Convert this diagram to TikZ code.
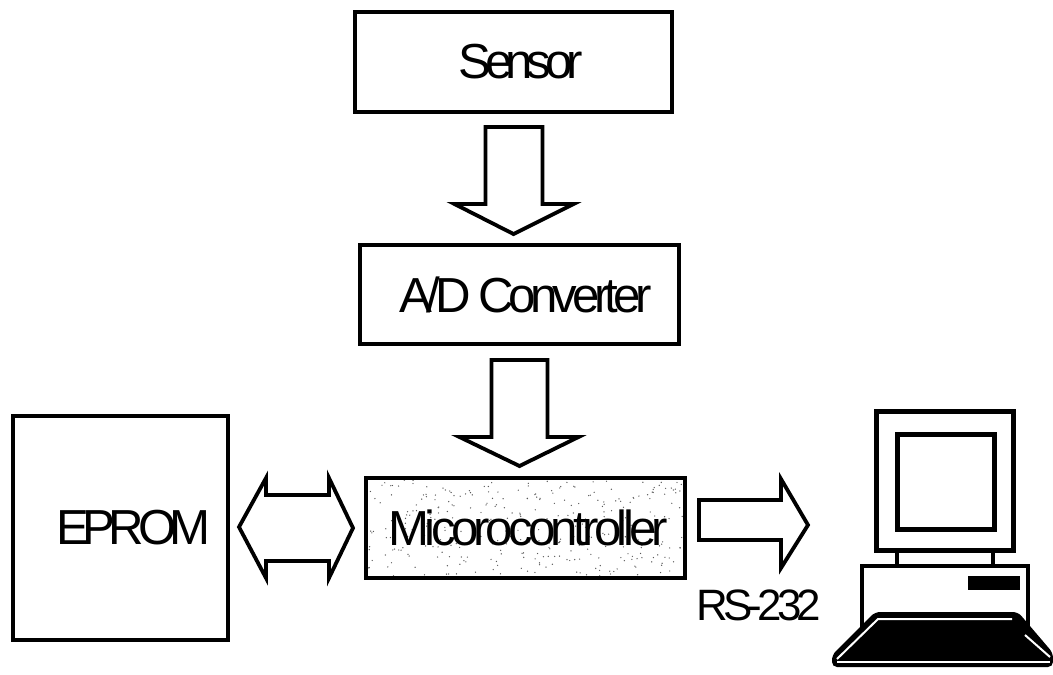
\documentclass[tikz,border=0pt]{standalone}
\usepackage{fontspec}
\setmainfont{Liberation Sans}[LetterSpace=-11]
\newcommand{\thett}[1]{\addfontfeature{LetterSpace=#1}}
\tikzset{
  blokk/.style={draw, line width=.45mm, inner sep=0pt, outer sep=0pt, anchor=north west},
  pila/.style={draw, line width=.38mm, fill=white, line join=miter},
  merki/.style={font=\fontsize{14}{16}\selectfont, inner sep=0pt},
  skjar/.style={draw, line width=.5mm}
}
\begin{document}
\begin{tikzpicture}
  \useasboundingbox (0,0) rectangle (10.53,6.74);
  \pgfmathsetseed{23}
  % kassar
  \node [blokk, merki, minimum width=3.17cm, minimum height=1cm] (sensor) at (3.55,6.62) {\hspace{.14cm}\thett{-13}Sensor};
  \node [blokk, merki, minimum width=3.19cm, minimum height=.99cm] (adc) at (3.60,4.29) {\hspace{.12cm}A/D Converter};
  \node [blokk, merki, minimum width=2.15cm, minimum height=2.24cm] (eprom) at (.13,2.58) {\hspace{.26cm}\raisebox{-.05cm}{\thett{-13}EPROM}};
  \node [blokk, merki, minimum width=3.19cm, minimum height=1cm, path picture={
    \foreach \i in {1,...,330} {
      \fill [black!65] (path picture bounding box.center) ++(1.57*rand,.48*rand) circle (.007);
    }
  }] (micro) at (3.66,1.96) {\hspace{.06cm}\raisebox{-.04cm}{\thett{-9.5}Micorocontroller}};
  \node [merki, font=\fontsize{12.5}{15}\selectfont] (rs) at (7.59,.69) {RS-232};

  % pilar
  \draw [pila] (sensor.south) ++(-.28,-.15) -- ++(0,-.77) -- ++(-.31,0) -- ++(.59,-.30)
    -- ++(.60,.30) -- ++(-.31,0) -- ++(0,.77) -- cycle;
  \draw [pila] (adc.south) ++(-.28,-.16) -- ++(0,-.77) -- ++(-.32,0) -- ++(.60,-.29)
    -- ++(.59,.29) -- ++(-.31,0) -- ++(0,.77) -- cycle;
  \draw [pila] (micro.west) ++(-1.27,.01) -- ++(.27,.49) -- ++(0,-.17) -- ++(.63,0) -- ++(0,.17)
    -- ++(.24,-.50) -- ++(-.24,-.50) -- ++(0,.17) -- ++(-.63,0) -- ++(0,-.17) -- cycle;
  \draw [pila] (micro.east) ++(.14,.28) -- ++(.82,0) -- ++(0,.21) -- ++(.27,-.46) -- ++(-.27,-.43)
    -- ++(0,.28) -- ++(-.82,0) -- cycle;

  % tolva
  \draw [skjar] (8.76,2.63) rectangle (10.13,1.24);
  \draw [skjar] (8.97,2.40) rectangle (9.94,1.45);
  \draw [line width=.45mm] (8.97,1.24) -- (8.97,1.08);
  \draw [line width=.45mm] (9.93,1.24) -- (9.93,1.08);
  \draw [line width=.45mm, fill=white] (8.62,1.08) rectangle (10.28,.40);
  \fill (9.68,.98) rectangle (10.20,.84);
  \fill [rounded corners=.5mm] (8.75,.62) -- (10.18,.62) -- (10.53,.21) -- (10.53,.07) -- (8.32,.07) -- (8.32,.19) -- cycle;
  \draw [white, line width=.2mm] (8.37,.12) -- (10.50,.12);
  \draw [white, line width=.2mm] (8.37,.15) -- (8.78,.55) -- (10.12,.55);
  \draw [white, line width=.2mm] (10.25,.39) -- (10.50,.17);
\end{tikzpicture}
\end{document}
